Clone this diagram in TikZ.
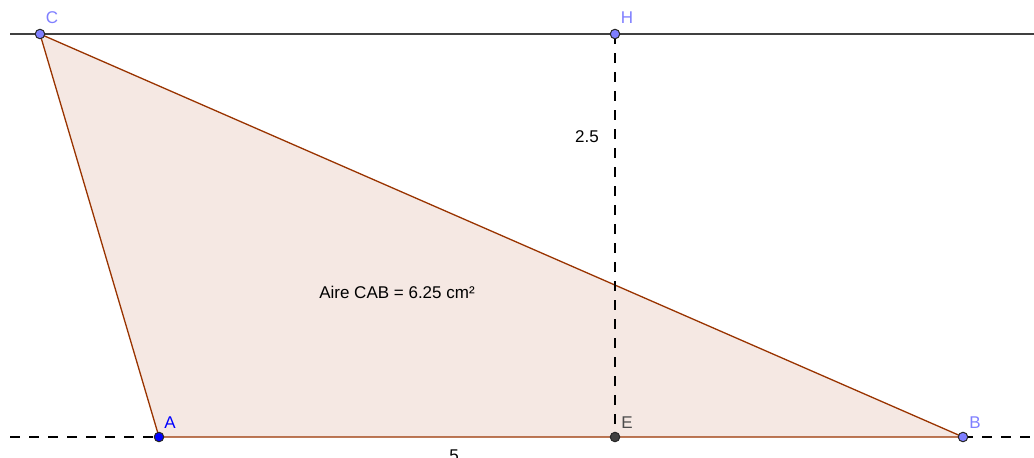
\documentclass[tikz,border=0pt]{standalone}
\usepackage{fontspec}
\setmainfont{Liberation Sans}
\begin{document}
\begin{tikzpicture}[x=1pt,y=-1pt,
  pt/.style={circle,draw=black!85,line width=1pt,inner sep=0pt,minimum size=9.5pt},
  lbl/.style={font=\fontsize{17}{19}\selectfont,inner sep=0pt},
  dashln/.style={line width=1.2pt,dash pattern=on 10pt off 9pt},
  tri/.style={draw={rgb,255:red,153;green,51;blue,0},line width=1.3pt,fill={rgb,255:red,245;green,232;blue,227}}
]
\useasboundingbox (0,0) rectangle (1034,458);
\coordinate (C) at (40,34);
\coordinate (H) at (615,34);
\coordinate (A) at (159,437);
\coordinate (E) at (615,437);
\coordinate (B) at (963,437);
\coordinate (Tl) at (10,34);
\coordinate (Tr) at (1034,34);
\coordinate (Bl) at (10,437);
\coordinate (Br) at (1034,437);
% triangle
\filldraw[tri] (C) -- (A) -- (B) -- cycle;
% lines
\draw[line width=1.3pt,black!75] (Tl) -- (Tr);
\draw[dashln] (Bl) -- (A);
\draw[dashln] (B) -- (Br);
\draw[dashln] (H) -- (E);
% points
\node[pt,fill={rgb,255:red,127;green,127;blue,255}] (pC) at (C) {};
\node[pt,fill={rgb,255:red,127;green,127;blue,255}] (pH) at (H) {};
\node[pt,fill={rgb,255:red,0;green,0;blue,255}] (pA) at (A) {};
\node[pt,fill=black!75] (pE) at (E) {};
\node[pt,fill={rgb,255:red,127;green,127;blue,255}] (pB) at (B) {};
% labels
\node[lbl,text={rgb,255:red,127;green,127;blue,255}] (lC) at (52,18) {C};
\node[lbl,text={rgb,255:red,127;green,127;blue,255}] (lH) at (627,18) {H};
\node[lbl,text={rgb,255:red,0;green,0;blue,255}] (lA) at (170,423) {A};
\node[lbl,text=black!70] (lE) at (627,423) {E};
\node[lbl,text={rgb,255:red,127;green,127;blue,255}] (lB) at (975,423) {B};
\node[lbl] (l25) at (587,137) {2.5};
\node[lbl] (l5) at (454,456) {5};
\node[lbl] (aire) at (397,292) {Aire CAB = 6.25 cm²};
\end{tikzpicture}
\end{document}
